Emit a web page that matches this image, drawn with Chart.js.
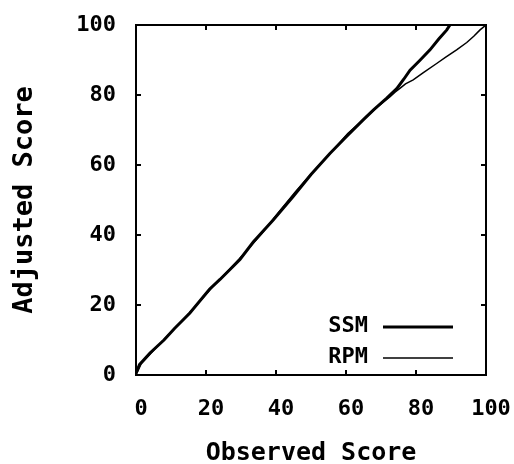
<!DOCTYPE html>
<html>
<head>
<meta charset="utf-8">
<script src="https://cdn.jsdelivr.net/npm/chart.js@4"></script>
<style>
  html, body { margin: 0; padding: 0; background: #fff; }
  #wrap { width: 514px; height: 464px; }
</style>
</head>
<body>
<div id="wrap"><canvas id="grafico"></canvas></div>
<script>
// Datos
const ssmX = [0, 1, 4, 8, 11, 15.4, 21, 24, 29.7, 33.5, 39.2, 44.9, 50, 55.4, 60, 64.9, 67.8, 71.5, 74.5, 76.5, 78.3, 81, 84, 86.5, 88.8, 89.7];
const ssmY = [0.5, 3, 6.3, 10, 13.3, 17.7, 24.5, 27.3, 33, 38, 44.3, 51, 57.3, 63.3, 68, 72.9, 75.7, 79, 81.8, 84.5, 87.1, 89.8, 92.9, 96, 98.6, 100];

const rpmX = [0, 1.5, 5, 9, 13, 18, 22, 27, 31, 36, 41, 45.5, 50.5, 55, 60.5, 65, 69, 72.6, 74, 75.4, 77, 79.2, 82, 85.9, 88.5, 91.6, 94.5, 96.5, 98.3, 100];
const rpmY = [0, 3.2, 7, 11.2, 15.3, 20.8, 25.3, 30.5, 34.8, 40.5, 46.8, 52.3, 58, 62.8, 69, 73, 76.6, 79.5, 80.8, 81.9, 83.2, 84.3, 86.3, 89, 90.8, 92.9, 95, 96.8, 98.6, 100];

const ejeTicks = [0, 20, 40, 60, 80, 100];
const marcasInternas = [20, 40, 60, 80];

const fuente = 'DejaVu Sans Mono';

const toPts = (xs, ys) => xs.map((x, i) => ({ x: x, y: ys[i] }));

// Marco y marcas hacia adentro (estilo gnuplot)
const marcoPlugin = {
  id: 'marco',
  beforeDatasetsDraw(chart) {
    const { ctx, chartArea: a, scales } = chart;
    ctx.save();
    ctx.strokeStyle = '#000';
    ctx.lineWidth = 2;
    ctx.strokeRect(a.left, a.top, a.right - a.left, a.bottom - a.top);
    const L = 5;
    ctx.beginPath();
    marcasInternas.forEach(v => {
      const px = scales.x.getPixelForValue(v);
      ctx.moveTo(px, a.bottom); ctx.lineTo(px, a.bottom - L);
      ctx.moveTo(px, a.top); ctx.lineTo(px, a.top + L);
      const py = scales.y.getPixelForValue(v);
      ctx.moveTo(a.left, py); ctx.lineTo(a.left + L, py);
      ctx.moveTo(a.right, py); ctx.lineTo(a.right - L, py);
    });
    ctx.stroke();
    ctx.restore();
  }
};

// Leyenda: texto a la izquierda, linea a la derecha
const leyendaPlugin = {
  id: 'leyendaGnuplot',
  afterDatasetsDraw(chart) {
    const { ctx, chartArea: a } = chart;
    ctx.save();
    ctx.font = 'bold 22px "' + fuente + '"';
    ctx.textAlign = 'right';
    ctx.textBaseline = 'middle';
    chart.data.datasets.forEach((ds, i) => {
      const y = a.bottom - 49 + i * 31;
      ctx.fillStyle = '#000';
      ctx.fillText(ds.label, a.right - 118, y);
      ctx.strokeStyle = ds.borderColor;
      ctx.lineWidth = ds.borderWidth;
      ctx.beginPath();
      ctx.moveTo(a.right - 103, y + 1);
      ctx.lineTo(a.right - 33, y + 1);
      ctx.stroke();
    });
    ctx.restore();
  }
};

new Chart(document.getElementById('grafico').getContext('2d'), {
  type: 'scatter',
  data: {
    datasets: [
      { label: 'SSM', data: toPts(ssmX, ssmY), showLine: true, borderColor: '#000', borderWidth: 3, pointRadius: 0, tension: 0 },
      { label: 'RPM', data: toPts(rpmX, rpmY), showLine: true, borderColor: '#000', borderWidth: 1.5, pointRadius: 0, tension: 0 }
    ]
  },
  options: {
    responsive: true, maintainAspectRatio: false, animation: false,
    layout: { padding: { top: 25, right: 28, left: 0, bottom: 0 } },
    plugins: { legend: { display: false }, tooltip: { enabled: false } },
    scales: {
      x: {
        type: 'linear', position: 'bottom', min: 0, max: 100,
        afterBuildTicks: s => { s.ticks = ejeTicks.map(v => ({ value: v })); },
        afterFit: s => { s.height = 89; s.paddingLeft = 0; s.paddingRight = 0; },
        grid: { display: false }, border: { display: false },
        ticks: { padding: 13, labelOffset: 5, color: '#000', font: { family: fuente, size: 22, weight: 'bold' } },
        title: { display: true, text: 'Observed Score', color: '#000', padding: { top: 0, bottom: 0 },
          font: { family: fuente, size: 25, weight: 'bold', lineHeight: '22px' } }
      },
      y: {
        type: 'linear', position: 'left', min: 0, max: 100,
        afterBuildTicks: s => { s.ticks = ejeTicks.map(v => ({ value: v })); },
        afterFit: s => { s.width = 136; s.paddingTop = 0; s.paddingBottom = 0; },
        grid: { display: false }, border: { display: false },
        ticks: { padding: 12, color: '#000', font: { family: fuente, size: 22, weight: 'bold' } },
        title: { display: true, text: 'Adjusted Score', color: '#000', padding: { top: 14, bottom: 0 },
          font: { family: fuente, size: 27, weight: 'bold', lineHeight: '22px' } }
      }
    }
  },
  plugins: [marcoPlugin, leyendaPlugin]
});
</script>
</body>
</html>
